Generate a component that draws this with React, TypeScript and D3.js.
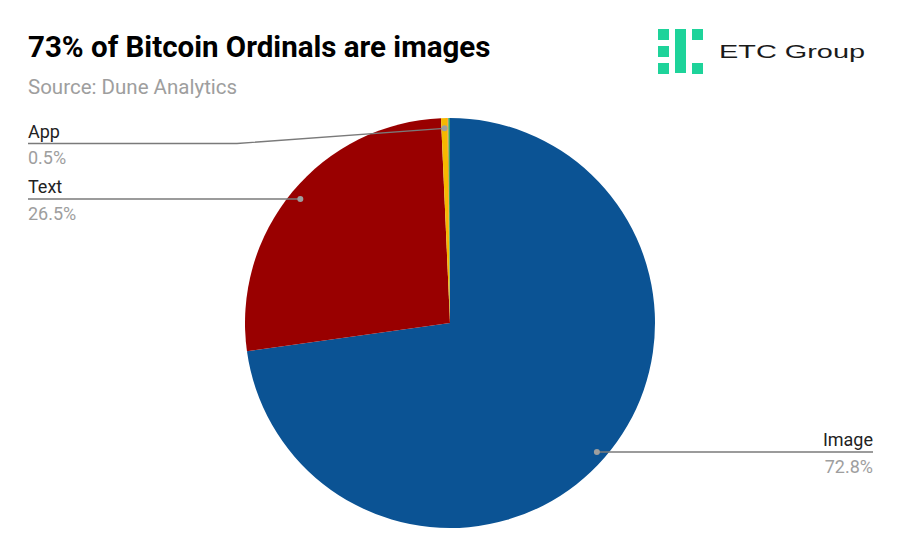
import React, { useEffect, useRef } from 'react';
import * as d3 from 'd3';

// Ordinal inscription types (share of total, %)
const categories = ['Image', 'Text', 'App', 'Other', 'Video'];
const shares = [72.8, 26.5, 0.5, 0.07, 0.13];
const sliceColors = ['#0b5394', '#990000', '#f6b800', '#ff7a00', '#2fa66a'];
// only these slices get a callout label
const labelled = ['Image', 'Text', 'App'];

const title = '73% of Bitcoin Ordinals are images';
const subtitle = 'Source: Dune Analytics';

const WIDTH = 900;
const HEIGHT = 557;

interface Slice {
  name: string;
  value: number;
}

const App: React.FC = () => {
  const svgRef = useRef<SVGSVGElement | null>(null);

  useEffect(() => {
    if (!svgRef.current) return;
    const data: Slice[] = categories.map((name, i) => ({ name, value: shares[i] }));

    const svg = d3.select(svgRef.current);
    svg.selectAll('*').remove();

    const cx = 450;
    const cy = 323;
    const radius = 205;

    svg.append('rect').attr('width', WIDTH).attr('height', HEIGHT).attr('fill', '#ffffff');

    // Title + subtitle
    svg.append('text')
      .attr('x', 28)
      .attr('y', 57)
      .text(title)
      .style('font-family', 'Roboto, sans-serif')
      .style('font-weight', 'bold')
      .style('font-size', '29.5px')
      .style('fill', '#000');

    svg.append('text')
      .attr('x', 28)
      .attr('y', 94)
      .text(subtitle)
      .style('font-family', 'Roboto, sans-serif')
      .style('font-size', '20.5px')
      .style('fill', '#9e9e9e');

    // Logo
    const logo = svg.append('g').attr('fill', '#1ed39a');
    const blocks: [number, number, number, number][] = [
      [658, 29, 11, 11], [658, 46, 11, 11], [658, 63, 11, 11],
      [675, 29, 11, 44],
      [692, 29, 11, 11], [692, 63, 11, 11],
    ];
    blocks.forEach(([x, y, w, h]) => {
      logo.append('rect').attr('x', x).attr('y', y).attr('width', w).attr('height', h);
    });
    svg.append('text')
      .attr('x', 719)
      .attr('y', 58)
      .attr('textLength', 146)
      .attr('lengthAdjust', 'spacingAndGlyphs')
      .text('ETC Group')
      .style('font-family', '"Liberation Sans", Arial, sans-serif')
      .style('font-size', '19px')
      .style('fill', '#1a1a1a');

    const color = d3.scaleOrdinal<string, string>().domain(categories).range(sliceColors);

    const pie = d3.pie<Slice>().sort(null).value(d => d.value);
    const arcs = pie(data);
    const arc = d3.arc<d3.PieArcDatum<Slice>>().innerRadius(0).outerRadius(radius);
    const dotArc = d3.arc<d3.PieArcDatum<Slice>>().innerRadius(radius * 0.95).outerRadius(radius * 0.95);

    const g = svg.append('g').attr('transform', `translate(${cx},${cy})`);
    g.selectAll('path.slice')
      .data(arcs)
      .enter()
      .append('path')
      .attr('class', 'slice')
      .attr('d', arc)
      .attr('fill', d => color(d.data.name));

    // Callouts
    const total = d3.sum(shares);
    const fmt = (v: number) => `${((v / total) * 100).toFixed(1)}%`;
    const callouts: Record<string, { lineY: number; side: 'left' | 'right'; elbowX?: number }> = {
      Image: { lineY: 452, side: 'right' },
      Text: { lineY: 199, side: 'left' },
      App: { lineY: 143.5, side: 'left', elbowX: 237 },
    };

    arcs.filter(d => labelled.includes(d.data.name)).forEach(d => {
      const [px, py] = dotArc.centroid(d);
      const dx = cx + px;
      const dy = cy + py;
      const c = callouts[d.data.name];
      const endX = c.side === 'left' ? 28 : 873;
      const pts: [number, number][] = c.elbowX !== undefined
        ? [[dx, dy], [c.elbowX, c.lineY], [endX, c.lineY]]
        : [[dx, c.lineY], [endX, c.lineY]];

      svg.append('path')
        .attr('d', d3.line()(pts))
        .attr('fill', 'none')
        .attr('stroke', '#7a7a7a')
        .attr('stroke-width', 1.4);
      svg.append('circle')
        .attr('cx', dx)
        .attr('cy', c.elbowX !== undefined ? dy : c.lineY)
        .attr('r', 3)
        .attr('fill', '#9e9e9e');

      const anchor = c.side === 'left' ? 'start' : 'end';
      svg.append('text')
        .attr('x', endX)
        .attr('y', c.lineY - 6)
        .attr('text-anchor', anchor)
        .text(d.data.name)
        .style('font-family', 'Roboto, sans-serif')
        .style('font-size', '18px')
        .style('fill', '#222');
      svg.append('text')
        .attr('x', endX)
        .attr('y', c.lineY + 20.5)
        .attr('text-anchor', anchor)
        .text(fmt(d.data.value))
        .style('font-family', 'Roboto, sans-serif')
        .style('font-size', '18px')
        .style('fill', '#9e9e9e');
    });
  }, []);

  return (
    <div style={{ width: WIDTH, height: HEIGHT, margin: -8 }}>
      <svg ref={svgRef} width={WIDTH} height={HEIGHT}></svg>
    </div>
  );
};

export default App;
